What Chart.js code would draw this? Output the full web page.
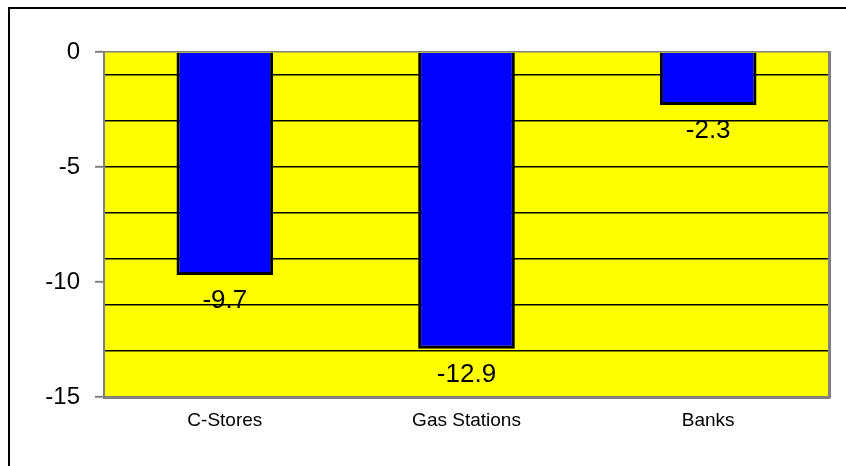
<!DOCTYPE html>
<html>
<head>
<meta charset="utf-8">
<script src="https://cdn.jsdelivr.net/npm/chart.js@4"></script>
<style>
  body { margin: 0; background: #fff; }
  #wrap { position: relative; width: 846px; height: 466px; }
  #frame { position: absolute; left: 8px; top: 7px; right: -10px; bottom: -10px;
           border-top: 2px solid #000; border-left: 2px solid #000; }
  canvas { position: absolute; left: 0; top: 0; }
</style>
</head>
<body>
<div id="wrap">
  <div id="frame"></div>
  <canvas id="chart" width="846" height="466"></canvas>
</div>
<script>
// data
var categories = ['C-Stores', 'Gas Stations', 'Banks'];
var values = [-9.7, -12.9, -2.3];
var yTicks = [0, -5, -10, -15];
var gridValues = [-1, -3, -5, -7, -9, -11, -13];

var GRAY = '#808080';
var FONT = '"Liberation Sans", Arial, sans-serif';

// labels under each bar end
var valueLabels = {
    id: 'valueLabels',
    afterDatasetsDraw: function(chart) {
        var ctx = chart.ctx;
        var meta = chart.getDatasetMeta(0);
        ctx.save();
        ctx.font = '26px ' + FONT;
        ctx.fillStyle = '#000';
        ctx.textAlign = 'center';
        ctx.textBaseline = 'middle';
        meta.data.forEach(function(bar, i) {
            ctx.fillText(values[i].toFixed(1), bar.x, bar.y + 26);
        });
        ctx.restore();
    }
};

// yellow plot background
var plotBg = {
    id: 'plotBg',
    beforeDraw: function(chart) {
        var a = chart.chartArea;
        chart.ctx.save();
        chart.ctx.fillStyle = '#FFFF00';
        chart.ctx.fillRect(a.left, a.top, a.right - a.left, a.bottom - a.top);
        chart.ctx.restore();
    }
};

new Chart(document.getElementById('chart'), {
    type: 'bar',
    data: {
        labels: categories,
        datasets: [{
            data: values,
            backgroundColor: '#0000FF',
            borderColor: '#000000',
            borderWidth: 3,
            categoryPercentage: 1,
            barPercentage: 0.4
        }]
    },
    options: {
        responsive: false,
        animation: false,
        devicePixelRatio: 1,
        layout: {padding: {left: 0, right: 17, top: 52, bottom: 0}},
        plugins: {legend: {display: false}, tooltip: {enabled: false}},
        scales: {
            x: {
                grid: {drawOnChartArea: false, drawTicks: false, color: 'transparent'},
                border: {color: GRAY, width: 3},
                ticks: {
                    color: '#000',
                    padding: 12,
                    font: {family: FONT, size: 19}
                },
                afterFit: function(s) { s.height = 69; }
            },
            y: {
                min: -15,
                max: 0,
                grid: {
                    color: function(c) {
                        if (c.tick.value === 0) return GRAY;
                        return gridValues.indexOf(c.tick.value) >= 0 ? '#000' : 'transparent';
                    },
                    lineWidth: 1.6,
                    tickLength: 9,
                    tickColor: function(c) {
                        return yTicks.indexOf(c.tick.value) >= 0 ? GRAY : 'transparent';
                    },
                    tickWidth: 2
                },
                border: {color: GRAY, width: 2},
                ticks: {
                    stepSize: 1,
                    autoSkip: false,
                    padding: 15,
                    color: '#000',
                    font: {family: FONT, size: 24},
                    callback: function(v) { return yTicks.indexOf(v) >= 0 ? String(v) : ''; }
                },
                afterFit: function(s) { s.width = 104; }
            },
            y2: {
                position: 'right',
                min: -15,
                max: 0,
                grid: {drawOnChartArea: false, drawTicks: false},
                border: {color: GRAY, width: 3},
                ticks: {display: false},
                afterFit: function(s) { s.width = 0; }
            }
        }
    },
    plugins: [plotBg, valueLabels]
});
</script>
</body>
</html>
